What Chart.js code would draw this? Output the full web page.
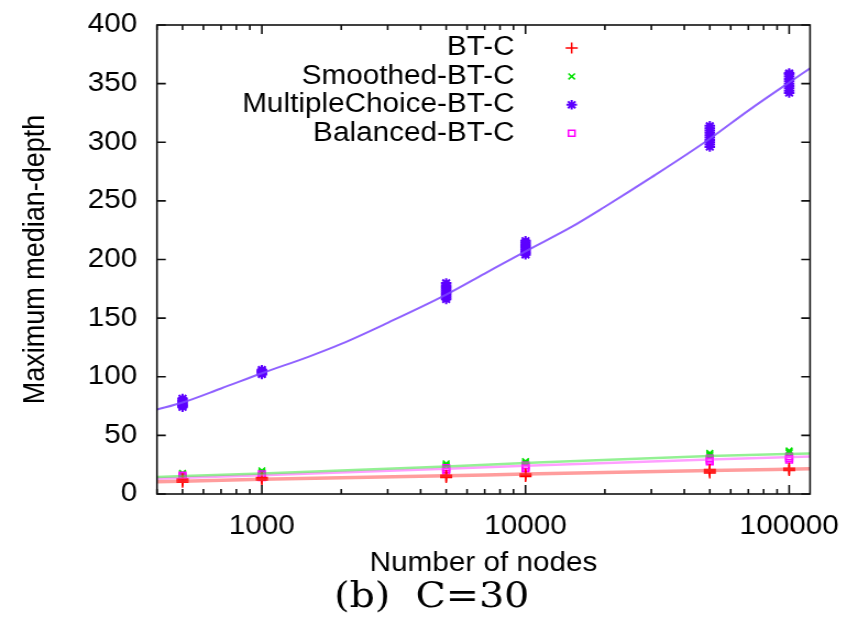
<!DOCTYPE html>
<html>
<head>
<meta charset="utf-8">
<script src="https://cdn.jsdelivr.net/npm/chart.js@4.4.1/dist/chart.umd.min.js"></script>
<style>
  html, body { margin: 0; padding: 0; background: #fff; overflow: hidden; }
  /* the original figure is a bit wider than tall; stretch like it */
  #depthChart { display: block; transform: scaleX(1.1); transform-origin: 0 0; }
</style>
</head>
<body>
<canvas id="depthChart" width="769" height="623"></canvas>
<script>
// measured runs: several trials per network size
const nodes = [500, 1000, 5000, 10000, 50000, 100000];
const btcDepth = [[10, 11, 12, 13], [12, 13, 14], [14, 15, 16], [15, 16, 17], [18, 19, 20, 21], [20, 21, 22]];
const smoothedDepth = [[16, 17, 18], [18, 19, 20], [24, 25, 26], [26, 27, 28], [32, 33, 34, 35], [35, 36, 37]];
const mcDepth = [
  [74, 75, 76, 77, 78, 79, 80, 81.5],
  [102, 103, 104, 105, 106],
  [166, 167.5, 169, 170.5, 172, 173.5, 175, 176.5, 178, 180],
  [204, 205.5, 207, 208.5, 210, 211.5, 213, 214.5, 216],
  [296, 298, 300, 302, 304, 306, 308, 310, 312, 314],
  [342, 344, 346, 348, 350, 352, 354, 356, 358, 359]
];
const balancedDepth = [[13, 14.5, 16], [14, 15.5, 17], [19.5, 21, 22.5], [21.5, 23, 24.5], [27.5, 29, 30.5], [29, 30.5, 32]];

// fitted curves
const fitNodes = [400, 1000, 5000, 10000, 50000, 120000];
const btcFit = [10.5, 12.5, 15.5, 17, 20, 21.5];
const smoothedFit = [14.5, 17.5, 23.5, 26.5, 32.5, 34.5];
const balancedFit = [13, 16, 21.5, 24, 29.5, 32];
const mcFitNodes = [400, 500, 700, 1000, 1500, 2000, 3000, 5000, 7000, 10000, 15000, 20000, 30000, 50000, 70000, 100000, 120000];
const mcFit = [72, 78, 90, 103, 117, 128, 146, 170, 188, 207, 228, 245, 270, 303, 327, 351, 363];

const seriesLabels = ['BT-C', 'Smoothed-BT-C', 'MultipleChoice-BT-C', 'Balanced-BT-C'];
const xTickLabels = [1000, 10000, 100000];
const xMin = 400, xMax = 120000;
const yMin = 0, yMax = 400, yStep = 50;
const caption = '(b)  C=30';

const FONT = '"Liberation Sans", Arial, sans-serif';

const cluster = groups => groups.flatMap((g, i) => g.map(v => ({ x: nodes[i], y: v })));
const curve = (xs, ys) => xs.map((x, i) => ({ x, y: ys[i] }));

function fitLine(data, color, width) {
  return {
    data, showLine: true, borderColor: color, borderWidth: width,
    pointRadius: 0, cubicInterpolationMode: 'monotone', fill: false
  };
}

function marks(label, data, color, style, radius, bw, order) {
  return {
    label, data, inKey: true, showLine: false,
    pointStyle: style, pointRadius: radius, pointHoverRadius: radius,
    pointBorderWidth: bw, borderColor: color, pointBorderColor: color,
    pointBackgroundColor: 'rgba(0,0,0,0)', backgroundColor: 'rgba(0,0,0,0)', order
  };
}

// keep the plot box where the layout padding puts it
function noOverhang(s) {
  s.paddingTop = 0; s.paddingBottom = 0;
  s.paddingLeft = 0; s.paddingRight = 0;
}

// gnuplot style: box border with inward ticks on all four sides
const frame = {
  id: 'frame',
  afterDraw(chart) {
    const { ctx, chartArea: a, scales: { x, y } } = chart;
    ctx.save();
    ctx.strokeStyle = '#111';
    ctx.lineWidth = 1.6;
    ctx.strokeRect(a.left, a.top, a.right - a.left, a.bottom - a.top);
    ctx.beginPath();
    for (let v = yMin; v <= yMax; v += yStep) {
      const py = y.getPixelForValue(v);
      ctx.moveTo(a.left, py); ctx.lineTo(a.left + 8, py);
      ctx.moveTo(a.right, py); ctx.lineTo(a.right - 8, py);
    }
    for (let d = 100; d <= xMax; d *= 10) {
      for (let m = 1; m < 10; m++) {
        const v = d * m;
        if (v < xMin || v > xMax) continue;
        const len = m === 1 ? 9 : 5;
        const px = x.getPixelForValue(v);
        ctx.moveTo(px, a.bottom); ctx.lineTo(px, a.bottom - len);
        ctx.moveTo(px, a.top); ctx.lineTo(px, a.top + len);
      }
    }
    ctx.stroke();

    // figure caption under the axis title
    ctx.fillStyle = '#000';
    ctx.font = '36px "DejaVu Serif", serif';
    ctx.textAlign = 'center';
    ctx.textBaseline = 'middle';
    ctx.fillText(caption, chart.width / 2 + 8, chart.height - 25);
    ctx.restore();
  }
};

// key: right-aligned labels, sample marker to the right
const keyBox = {
  id: 'keyBox',
  afterDatasetsDraw(chart) {
    const { ctx, chartArea: a } = chart;
    ctx.save();
    ctx.font = '27px ' + FONT;
    ctx.textAlign = 'right';
    ctx.textBaseline = 'middle';
    chart.data.datasets.filter(d => d.inKey)
      .sort((p, q) => seriesLabels.indexOf(p.label) - seriesLabels.indexOf(q.label))
      .forEach((d, i) => {
        const yy = a.top + 23 + i * 28.4;
        ctx.fillStyle = '#000';
        ctx.fillText(d.label, a.left + 325, yy);
        ctx.strokeStyle = d.borderColor;
        ctx.fillStyle = 'rgba(0,0,0,0)';
        ctx.lineWidth = d.pointBorderWidth;
        Chart.helpers.drawPoint(ctx, {
          pointStyle: d.pointStyle, radius: d.pointRadius, rotation: 0, borderWidth: d.pointBorderWidth
        }, a.left + 377, yy);
      });
    ctx.restore();
  }
};

new Chart(document.getElementById('depthChart').getContext('2d'), {
  type: 'scatter',
  data: {
    datasets: [
      fitLine(curve(fitNodes, btcFit), 'rgba(255,60,60,0.5)', 3.5),
      fitLine(curve(fitNodes, smoothedFit), 'rgba(60,230,60,0.55)', 2.5),
      fitLine(curve(mcFitNodes, mcFit), 'rgba(125,70,255,0.85)', 2),
      fitLine(curve(fitNodes, balancedFit), 'rgba(255,80,255,0.55)', 2.5),
      marks(seriesLabels[0], cluster(btcDepth), '#ff0000', 'cross', 5.5, 1.5, 1),
      marks(seriesLabels[1], cluster(smoothedDepth), '#00e000', 'crossRot', 4.2, 1.5, 3),
      marks(seriesLabels[2], cluster(mcDepth), '#5c00ff', 'star', 4.8, 2, 0),
      marks(seriesLabels[3], cluster(balancedDepth), '#ff00ff', 'rect', 4.2, 1.5, 2)
    ]
  },
  options: {
    responsive: false,
    animation: false,
    layout: { padding: { left: 0, right: 32.6, top: 25, bottom: 43 } },
    scales: {
      x: {
        type: 'logarithmic',
        min: xMin,
        max: xMax,
        grid: { display: false, drawTicks: false },
        border: { display: false },
        ticks: {
          autoSkip: false,
          maxRotation: 0,
          padding: 16,
          color: '#000',
          font: { family: FONT, size: 27 },
          callback: v => xTickLabels.includes(Math.round(v)) ? String(Math.round(v)) : ''
        },
        title: {
          display: true,
          text: 'Number of nodes',
          color: '#000',
          font: { family: FONT, size: 27 },
          padding: { top: 0, bottom: 0 }
        },
        afterFit: s => { s.height = 86; noOverhang(s); }
      },
      y: {
        min: yMin,
        max: yMax,
        grid: { display: false, drawTicks: false },
        border: { display: false },
        ticks: {
          stepSize: yStep,
          padding: 18,
          color: '#000',
          font: { family: FONT, size: 27 }
        },
        title: {
          display: true,
          text: 'Maximum median-depth',
          color: '#000',
          font: { family: FONT, size: 27 },
          padding: { top: 16, bottom: 0 }
        },
        afterFit: s => { s.width = 142.7; noOverhang(s); }
      }
    },
    plugins: {
      legend: { display: false },
      tooltip: { enabled: false }
    }
  },
  plugins: [frame, keyBox]
});
</script>
</body>
</html>
